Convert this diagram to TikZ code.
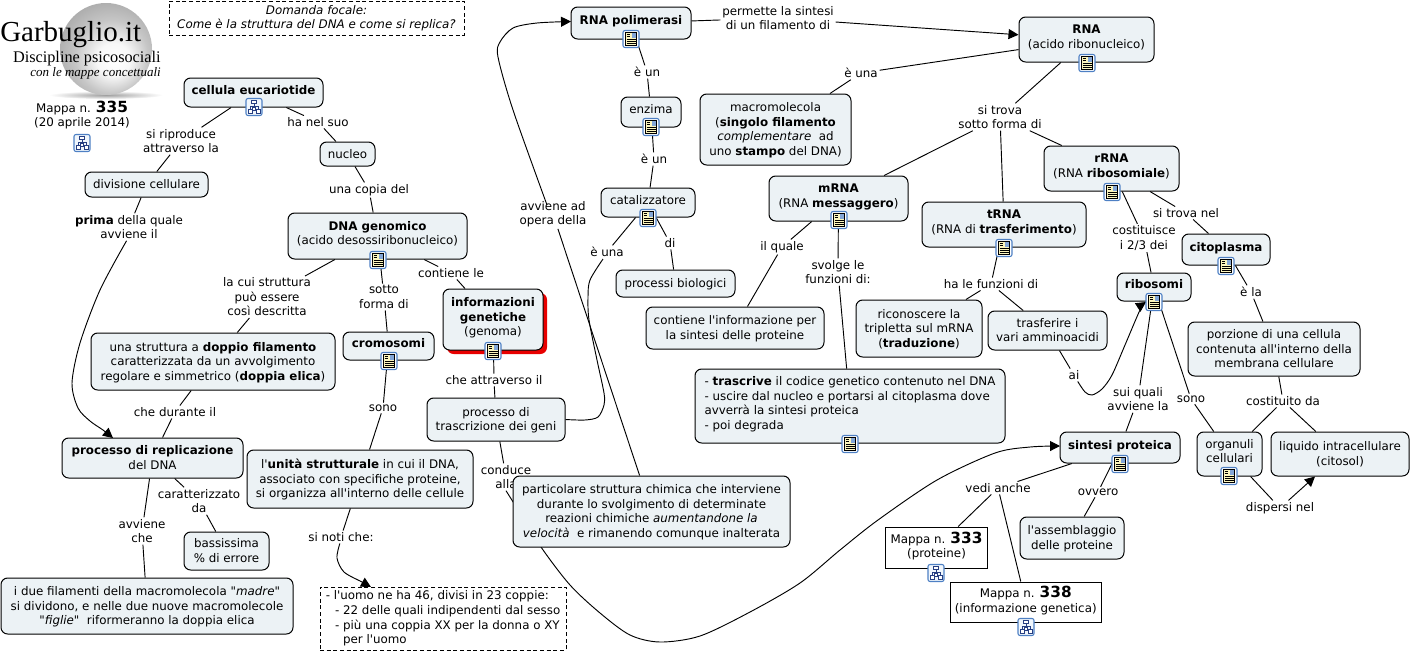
\documentclass[tikz,border=0pt]{standalone}
\usepackage{fontspec}
\setmainfont[Ligatures=TeXOff]{DejaVu Sans}
\newfontfamily\logofont{Liberation Serif}
\usetikzlibrary{arrows.meta,backgrounds,shadows}
\definecolor{conceptfill}{RGB}{236,242,245}
\definecolor{iconblue}{RGB}{78,128,196}
\definecolor{iconpage}{RGB}{252,246,190}
\definecolor{iconmap}{RGB}{38,62,130}
\definecolor{iconpale}{RGB}{240,246,252}
\definecolor{shadowred}{RGB}{232,0,0}
\pgfdeclareradialshading{ballshade}{\pgfpoint{5bp}{-7bp}}{color(0bp)=(white); color(9bp)=(white!94!gray); color(20bp)=(gray!45); color(34bp)=(gray!75); color(44bp)=(gray!90); color(50bp)=(gray!70)}
\newcommand{\mapnum}[1]{{\fontsize{11.5}{11.5}\selectfont\bfseries #1}}
\tikzset{
    concept/.style={draw, fill=conceptfill, rounded corners=5pt, line width=0.75pt,
        inner sep=0pt, align=center, text depth=0.5pt},
    iconed/.style={text depth=4.2pt},
    mapbox/.style={draw, fill=white, line width=0.75pt, inner sep=0pt, align=center, text depth=4pt},
    notebox/.style={draw, fill=white, dashed, dash pattern=on 3pt off 2pt, line width=0.6pt,
        inner sep=0pt, align=center},
    lab/.style={inner sep=1.2pt, align=center},
    sz/.style 2 args={minimum width=#1*0.75pt, minimum height=#2*0.75pt},
    link/.style={line width=0.7pt},
    head/.style={-{Triangle[length=7.5pt,width=7.5pt]}},
    pics/docicon/.style={code={
        \draw[iconblue, fill=white, rounded corners=1.5pt, line width=0.8pt] (-8,-8.5) rectangle (8,8.5);
        \draw[fill=iconpage, line width=0.35pt] (-5.5,-6.5) rectangle (5.5,6.5);
        \fill[iconblue!70] (0.5,-6) rectangle (5,-1.5);
        \foreach \ly in {0.5,2.5,4.5} \draw[line width=0.3pt] (-4.5,\ly) -- (4.5,\ly);
        \foreach \ly in {-4.5,-2.5} \draw[line width=0.3pt] (-4.5,\ly) -- (-1,\ly);
    }},
    pics/mapicon/.style={code={
        \draw[iconblue, fill=iconpale, rounded corners=1.5pt, line width=0.8pt] (-8,-8.5) rectangle (8,8.5);
        \draw[iconmap, line width=0.4pt] (0,-3.5) -- (0,0.5) (-4,2) -- (-4,-1) -- (4,-1) -- (4,2);
        \draw[iconmap, fill=white, line width=0.5pt] (-2.5,-6.5) rectangle (2.5,-3.5) (-6,2) rectangle (-2,6) (2,2) rectangle (6,6) (-1.5,0.5) rectangle (1.5,3.5);
    }}
}

\begin{document}
\begin{tikzpicture}[x=0.75pt, y=-0.75pt, every node/.style={font=\fontsize{8.9}{10.9}\selectfont}]
    \useasboundingbox (0,0) rectangle (1412,654);

    \shade[inner color=gray!75, outer color=white] (106,95) ellipse (57 and 4);
    \shade[shading=ballshade] (106,49) circle (46);
    \node[anchor=base west, inner sep=0pt, font=\logofont\fontsize{21.75}{22}\selectfont] (garb) at (0,41) {Garbuglio.it};
    \node[anchor=base east, inner sep=0pt, font=\logofont\fontsize{12.2}{13}\selectfont] (disc) at (161,62) {Discipline psicosociali};
    \node[anchor=base east, inner sep=0pt, font=\logofont\itshape\fontsize{9.75}{11}\selectfont] (conle) at (161,76) {con le mappe concettuali};
    \node[lab] (mappa) at (82,115) {Mappa n. \mapnum{335}\\(20 aprile 2014)};
    \node[notebox, sz={295}{34}] (domanda) at (316.5,18) {\textit{Domanda focale:}\\\textit{Come è la struttura del DNA e come si replica?}};

    \node[lab] (siripr) at (181,141) {si riproduce\\attraverso la};
    \node[lab] (hanel) at (318,122) {ha nel suo};
    \node[lab] (copia) at (369,190) {una copia del};
    \node[lab] (prima) at (129,227) {\textbf{prima} della quale\\avviene il};
    \node[lab] (lacui) at (267,297) {la cui struttura\\può essere\\così descritta};
    \node[lab] (sotto) at (384,297) {sotto\\forma di};
    \node[lab] (contle) at (451,273) {contiene le};
    \node[lab] (durante) at (175,412) {che durante il};
    \node[lab] (attrav) at (494,380) {che attraverso il};
    \node[lab] (sonoa) at (383,408) {sono};
    \node[lab] (avvche) at (142,531) {avviene\\che};
    \node[lab] (caratt) at (199,501) {caratterizzato\\da};
    \node[lab] (sinoti) at (341,537) {si noti che:};
    \node[lab] (cond) at (506,477) {conduce\\alla};
    \node[lab] (eunab) at (607,252) {è una};
    \node[lab] (dilab) at (670,243) {di};
    \node[lab] (avvad) at (553,214) {avviene ad\\opera della};
    \node[lab] (euna) at (647,72) {è un};
    \node[lab] (eunb) at (654,159) {è un};
    \node[lab] (perm) at (778,18) {permette la sintesi\\di un filamento di};
    \node[lab] (eunam) at (861,73) {è una};
    \node[lab] (sitrova) at (1000,117) {si trova\\sotto forma di};
    \node[lab] (ilq) at (782,247) {il quale};
    \node[lab] (svolge) at (838,272) {svolge le\\funzioni di:};
    \node[lab] (halef) at (991,284) {ha le funzioni di};
    \node[lab] (ai) at (1074,375) {ai};
    \node[lab] (costi) at (1144,238) {costituisce\\i 2/3 dei};
    \node[lab] (trovanel) at (1186,213) {si trova nel};
    \node[lab] (ela) at (1251,292) {è la};
    \node[lab] (suiq) at (1138,399) {sui quali\\avviene la};
    \node[lab] (sonob) at (1191,399) {sono};
    \node[lab] (costda) at (1283,401) {costituito da};
    \node[lab] (vedi) at (998,488) {vedi anche};
    \node[lab] (ovvero) at (1098,492) {ovvero};
    \node[lab] (disp) at (1280,508) {dispersi nel};

    \node[concept, iconed, sz={139}{29}] (cellula) at (253.5,92.5) {\textbf{cellula eucariotide}};
    \node[concept, sz={55}{24}] (nucleo) at (347.5,154) {nucleo};
    \node[concept, sz={123}{25}] (divis) at (146.5,184.5) {divisione cellulare};
    \node[concept, iconed, sz={179}{46}] (dna) at (377.5,236) {\textbf{DNA genomico}\\(acido desossiribonucleico)};
    \node[concept, sz={244}{57}] (strutt) at (213,361.5) {una struttura a \textbf{doppio filamento}\\caratterizzata da un avvolgimento\\regolare e simmetrico (\textbf{doppia elica})};
    \node[concept, iconed, sz={91}{28}] (cromo) at (388.5,346) {\textbf{cromosomi}};
    \node[concept, iconed, sz={100}{61}, drop shadow={shadow xshift=3pt, shadow yshift=-3pt, fill=shadowred, opacity=1}] (infog) at (493,319.5) {\textbf{informazioni}\\\textbf{genetiche}\\(genoma)};
    \node[concept, sz={138}{43}] (trascr) at (496,419.5) {processo di\\trascrizione dei geni};
    \node[concept, sz={181}{40}] (replic) at (152.5,458) {\textbf{processo di replicazione}\\del DNA};
    \node[concept, sz={226}{58}] (unita) at (360,479) {l'\textbf{unità strutturale} in cui il DNA,\\associato con specifiche proteine,\\si organizza all'interno delle cellule};
    \node[concept, sz={85}{38}] (bassa) at (226.5,551) {bassissima\\\% di errore};
    \node[concept, sz={292}{56}] (idue) at (147,606) {i due filamenti della macromolecola \textit{"madre"}\\si dividono, e nelle due nuove macromolecole\\\textit{"figlie"}\ \ riformeranno la doppia elica};
    \node[notebox, sz={246}{63}, align=left] (noti) at (443,618.5) {- l'uomo ne ha 46, divisi in 23 coppie:\\\hspace*{7pt}- 22 delle quali indipendenti dal sesso\\\hspace*{7pt}- più una coppia XX per la donna o XY\\\hspace*{13pt}per l'uomo};
    \node[concept, sz={277}{71}] (partic) at (651.5,511.5) {particolare struttura chimica che interviene\\durante lo svolgimento di determinate\\reazioni chimiche \textit{aumentandone la}\\\textit{velocità}\ \ e rimanendo comunque inalterata};
    \node[concept, iconed, sz={120}{32}] (rnapol) at (631,23) {\textbf{RNA polimerasi}};
    \node[concept, iconed, sz={60}{30}] (enzima) at (651,112) {enzima};
    \node[concept, iconed, sz={94}{29}] (catal) at (648,202.5) {catalizzatore};
    \node[concept, sz={119}{27}] (procb) at (675.5,283.5) {processi biologici};
    \node[concept, sz={151}{71}] (macro) at (775.5,129.5) {macromolecola\\(\textbf{singolo filamento}\\\textit{complementare}\ \ ad\\uno \textbf{stampo} del DNA)};
    \node[concept, iconed, sz={139}{45}] (mrna) at (838.5,198.5) {\textbf{mRNA}\\(RNA \textbf{messaggero})};
    \node[concept, iconed, sz={164}{45}] (trna) at (1004,224.5) {\textbf{tRNA}\\(RNA di \textbf{trasferimento})};
    \node[concept, iconed, sz={135}{45}] (rna) at (1086.5,39.5) {\textbf{RNA}\\(acido ribonucleico)};
    \node[concept, iconed, sz={135}{45}] (rrna) at (1111.5,168.5) {\textbf{rRNA}\\(RNA \textbf{ribosomiale})};
    \node[concept, iconed, sz={88}{31}] (cito) at (1226,249.5) {\textbf{citoplasma}};
    \node[concept, iconed, sz={74}{28}] (ribo) at (1154,287) {\textbf{ribosomi}};
    \node[concept, sz={119}{39}] (trasf) at (1047.5,330.5) {trasferire i\\vari amminoacidi};
    \node[concept, sz={126}{57}] (ricon) at (919,328.5) {riconoscere la\\tripletta sul mRNA\\(\textbf{traduzione})};
    \node[concept, sz={178}{42}] (continf) at (735,328) {contiene l'informazione per\\la sintesi delle proteine};
    \node[concept, iconed, sz={310}{74}, align=left] (trascrive) at (850,406) {- \textbf{trascrive} il codice genetico contenuto nel DNA\\- uscire dal nucleo e portarsi al citoplasma dove\\avverrà la sintesi proteica\\- poi degrada};
    \node[concept, sz={172}{54}] (porz) at (1274,349) {porzione di una cellula\\contenuta all'interno della\\membrana cellulare};
    \node[concept, iconed, sz={120}{31}] (sintesi) at (1120,447.5) {\textbf{sintesi proteica}};
    \node[concept, iconed, sz={65}{44}] (organ) at (1229.5,454) {organuli\\cellulari};
    \node[concept, sz={138}{44}] (liquido) at (1340,454) {liquido intracellulare\\(citosol)};
    \node[concept, sz={104}{42}] (assem) at (1072,538) {l'assemblaggio\\delle proteine};
    \node[mapbox, sz={102}{41}] (mapb) at (936.5,547.5) {Mappa n. \mapnum{333}\\(proteine)};
    \node[mapbox, sz={151}{40}] (mapc) at (1025.75,602) {Mappa n. \mapnum{338}\\(informazione genetica)};

    \pic at (82,143) {mapicon};
    \pic at (254,107) {mapicon};
    \pic at (936,573) {mapicon};
    \pic at (1026,627) {mapicon};
    \foreach \ix/\iy in {378/260, 389/361, 493/351, 631/39, 651/127, 648/218, 839/220,
        1004/248, 1087/63, 1112/192, 1226/266, 1154/302, 850/444, 1120/464, 1229/476}
        \pic at (\ix,\iy) {docicon};

    \coordinate (primatip) at (113,438);
    \coordinate (notitip) at (371,587);
    \coordinate (rnapoltip) at (571,21.5);
    \coordinate (ribotip) at (1146,302);
    \coordinate (sintesitip) at (1060,446);

    \begin{scope}[on background layer]
        \draw[link] (cellula) -- (siripr) -- (divis);
        \draw[link] (cellula) -- (hanel) -- (nucleo);
        \draw[link] (nucleo) -- (copia) -- (dna);
        \draw[link] (divis) -- (prima);
        \draw[link, head] plot[smooth] coordinates {(prima.-100) (100,290) (80,343) (72,383) (78,408) (90,421) (103,430) (primatip)};
        \draw[link] (dna) -- (lacui) -- (strutt);
        \draw[link] (dna) -- (sotto) -- (cromo);
        \draw[link] (dna) -- (contle) -- (infog);
        \draw[link] (strutt) -- (durante) -- (replic);
        \draw[link] (infog) -- (attrav) -- (trascr);
        \draw[link] (cromo) -- (sonoa) -- (unita);
        \draw[link] (replic) -- (avvche) -- (idue);
        \draw[link] (replic) -- (caratt) -- (bassa);
        \draw[link] (unita) -- (sinoti);
        \draw[link, head] plot[smooth] coordinates {(sinoti.-100) (337,558) (344,572) (362,582) (notitip)};
        \draw[link] (trascr) -- (cond);
        \draw[link, head] plot[smooth] coordinates {(cond.south) (515,505) (541,547) (570,585) (600,613) (630,635) (660,642) (700,636) (750,612) (800,583) (840,550) (878,520) (937,480) (995,453) (1030,447) (sintesitip)};
        \draw[link] (partic) -- (avvad);
        \draw[link, head] plot[smooth] coordinates {(547,205) (513,110) (498,57) (500,42) (513,28) (537,23) (rnapoltip)};
        \draw[link] (rnapol) -- (euna) -- (enzima);
        \draw[link] (enzima) -- (eunb) -- (catal);
        \draw[link] (catal) -- (eunab);
        \draw[link] plot[smooth] coordinates {(603,259) (590,280) (588,297) (589,320) (597,360) (604,393) (604,405) (598,417) (585,420) (trascr.east)};
        \draw[link] (catal) -- (dilab) -- (procb);
        \draw[link, head] (rnapol) -- (perm) -- (rna);
        \draw[link] (rna) -- (eunam) -- (macro);
        \draw[link] (rna) -- (sitrova) -- (mrna);
        \draw[link] (sitrova) -- (trna);
        \draw[link] (sitrova) -- (rrna);
        \draw[link] (mrna) -- (ilq) -- (continf);
        \draw[link] (mrna) -- (svolge) -- (trascrive);
        \draw[link] (trna) -- (halef) -- (ricon);
        \draw[link] (halef) -- (trasf);
        \draw[link] (trasf) -- (ai);
        \draw[link, head] plot[smooth] coordinates {(ai.-60) (1085,392) (1092,395) (1102,389) (1112,375) (1125,345) (1140,310) (ribotip)};
        \draw[link] (rrna) -- (costi) -- (ribo);
        \draw[link] (rrna) -- (trovanel) -- (cito);
        \draw[link] (cito) -- (ela) -- (porz);
        \draw[link] (porz) -- (costda) -- (organ);
        \draw[link] (costda) -- (liquido);
        \draw[link] (ribo) -- (suiq) -- (sintesi);
        \draw[link] (ribo) -- (sonob) -- (organ);
        \draw[link] (sintesi) -- (vedi) -- (mapb);
        \draw[link] (vedi) -- (mapc);
        \draw[link] (sintesi) -- (ovvero) -- (assem);
        \draw[link] (organ) -- (disp);
        \draw[link, head] (disp) -- (liquido);
    \end{scope}
\end{tikzpicture}
\end{document}
